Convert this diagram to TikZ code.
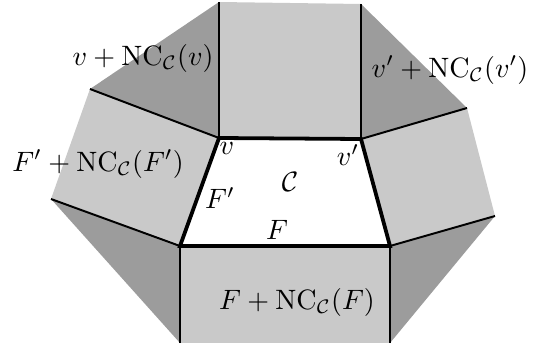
\documentclass[tikz,border=0pt]{standalone}
\begin{document}
\begin{tikzpicture}[x=0.357pt,y=-0.357pt,
  light/.style={fill=black!21},
  dark/.style={fill=black!39},
  edge/.style={line width=0.7pt},
  cedge/.style={line width=1.35pt, line join=miter},
  lab/.style={inner sep=0pt}]
\useasboundingbox (0,0) rectangle (534,348);
% vertices of C
\coordinate (v) at (219,138);
\coordinate (vp) at (361,139);
\coordinate (fr) at (390,246);
\coordinate (fl) at (180,246);
% outer points
\coordinate (vtop) at (219,2);
\coordinate (vptop) at (361,4);
\coordinate (vleft) at (90,89);
\coordinate (flleft) at (51,199);
\coordinate (flbot) at (180,343);
\coordinate (frbot) at (390,343);
\coordinate (frright) at (495,216);
\coordinate (vpright) at (467,108);
% fills
\fill[light] (v) -- (vtop) -- (vptop) -- (vp) -- cycle;
\fill[dark] (v) -- (vleft) -- (vtop) -- cycle;
\fill[dark] (vp) -- (vptop) -- (vpright) -- cycle;
\fill[light] (v) -- (vleft) -- (flleft) -- (fl) -- cycle;
\fill[light] (vp) -- (vpright) -- (frright) -- (fr) -- cycle;
\fill[dark] (fl) -- (flleft) -- (flbot) -- cycle;
\fill[dark] (fr) -- (frright) -- (frbot) -- cycle;
\fill[light] (fl) -- (flbot) -- (frbot) -- (fr) -- cycle;
% thin lines
\draw[edge] (v) -- (vtop);
\draw[edge] (v) -- (vleft);
\draw[edge] (vp) -- (vptop);
\draw[edge] (vp) -- (vpright);
\draw[edge] (fl) -- (flleft);
\draw[edge] (fl) -- (flbot);
\draw[edge] (fr) -- (frright);
\draw[edge] (fr) -- (frbot);
% C
\draw[cedge] (v) -- (vp) -- (fr) -- (fl) -- cycle;
% labels
\node[lab] (l1) at (143,58) {$v+\mathrm{NC}_{\mathcal{C}}(v)$};
\node[lab] (l2) at (450,70) {$v'+\mathrm{NC}_{\mathcal{C}}(v')$};
\node[lab] (l3) at (98,164) {$F'+\mathrm{NC}_{\mathcal{C}}(F')$};
\node[lab] (l4) at (297,302) {$F+\mathrm{NC}_{\mathcal{C}}(F)$};
\node[lab] (lv) at (227,148) {$v$};
\node[lab] (lvp) at (348,155) {$v'$};
\node[lab] (lc) at (290,182) {$\mathcal{C}$};
\node[lab] (lfp) at (220,198) {$F'$};
\node[lab] (lf) at (277,230) {$F$};
\end{tikzpicture}
\end{document}
